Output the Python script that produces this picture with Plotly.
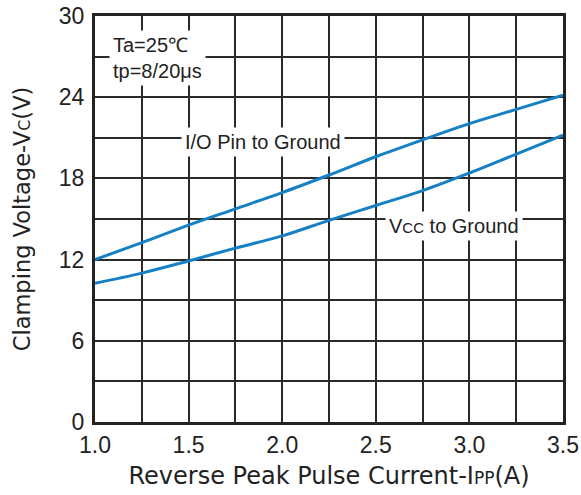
import plotly.graph_objects as go

x_vals = [1.0, 1.25, 1.5, 1.75, 2.0, 2.25, 2.5, 2.75, 3.0, 3.25, 3.5]
io_pin = [12.0, 13.25, 14.55, 15.75, 16.95, 18.25, 19.6, 20.85, 22.05, 23.1, 24.15]
vcc = [10.25, 11.0, 11.9, 12.85, 13.75, 14.9, 16.0, 17.1, 18.4, 19.8, 21.2]

x_ticks = [1.0, 1.5, 2.0, 2.5, 3.0, 3.5]
x_labels = ["1.0", "1.5", "2.0", "2.5", "3.0", "3.5"]
y_ticks = [0, 6, 12, 18, 24, 30]

line_color = "#1580C4"
font_family = "Liberation Sans, Arial, sans-serif"
title_family = "DejaVu Sans, Liberation Sans, sans-serif"
text_color = "#222222"
grid_color = "#2a2a2a"

fig = go.Figure()
fig.add_trace(go.Scatter(x=x_vals, y=io_pin, mode="lines", line=dict(color=line_color, width=3, shape="spline"),
                         name="I/O Pin to Ground", showlegend=False))
fig.add_trace(go.Scatter(x=x_vals, y=vcc, mode="lines", line=dict(color=line_color, width=3, shape="spline"),
                         name="VCC to Ground", showlegend=False))

fig.update_layout(
    width=581, height=495,
    margin=dict(l=95, r=18, t=16, b=73, autoexpand=False),
    paper_bgcolor="white", plot_bgcolor="white",
    font=dict(family=font_family, color=text_color, size=23),
    xaxis=dict(range=[1.0, 3.5], tickvals=x_ticks, ticktext=x_labels, automargin=False,
               showgrid=True, gridcolor=grid_color, gridwidth=1.5,
               minor=dict(dtick=0.25, showgrid=True, gridcolor=grid_color, gridwidth=1.5),
               showline=True, linecolor="#222222", linewidth=3, mirror=True,
               ticks="", ticklabelstandoff=0, zeroline=False,
               tickfont=dict(size=23),
               title=dict(text="Reverse Peak Pulse Current-I<span style='font-size:17px'>PP</span>(A)",
                          font=dict(size=24, family=title_family), standoff=11)),
    yaxis=dict(range=[0, 30], tickvals=y_ticks, automargin=False,
               showgrid=True, gridcolor=grid_color, gridwidth=1.5,
               minor=dict(dtick=3, showgrid=True, gridcolor=grid_color, gridwidth=1.5),
               showline=True, linecolor="#222222", linewidth=3, mirror=True,
               ticks="", ticklabelstandoff=3, zeroline=False, tickfont=dict(size=23),
               title=dict(text="Clamping Voltage-V<span style='font-size:16px'>C</span>(V)",
                          font=dict(size=22.5, family=title_family), standoff=22)),
)

fig.add_annotation(x=0.03, y=0.965, xref="paper", yref="paper", xanchor="left", yanchor="top",
                   text="Ta=25℃<br>tp=8/20μs", showarrow=False, align="left",
                   bgcolor="white", borderpad=3, font=dict(size=20))
fig.add_annotation(x=1.9, y=20.7, text="I/O Pin to Ground", showarrow=False,
                   bgcolor="white", borderpad=3, font=dict(size=20))
fig.add_annotation(x=2.92, y=14.5, text="V<span style='font-size:15px'>CC</span> to Ground", showarrow=False,
                   bgcolor="white", borderpad=3, font=dict(size=20))

# remove the default 8px body margin so the figure fills the window exactly
fig.write_html("out.html", config={"displayModeBar": False},
               post_script="document.body.style.margin='0px';")
